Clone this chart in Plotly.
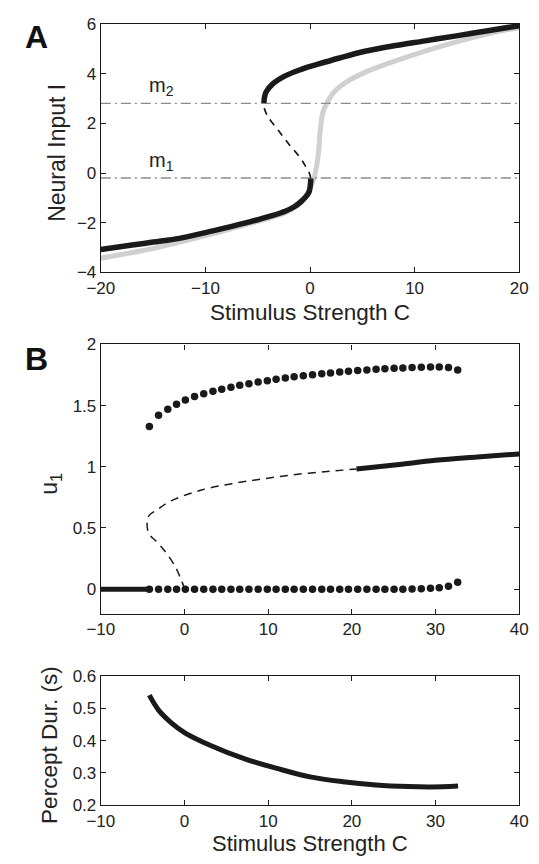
import plotly.graph_objects as go

W, H = 539, 864

# ---------------- Panel A: neural input I vs stimulus strength C ----------------
# stable lower branch (black, solid)
a_low_c = [-20, -17, -15, -12.5, -10, -8, -6.95, -5, -3.89, -2.37, -1.5, -0.84, -0.35, -0.08, 0.03, 0.06, 0.07]
a_low_i = [-3.08, -2.9, -2.78, -2.63, -2.4, -2.2, -2.09, -1.88, -1.75, -1.54, -1.36, -1.14, -0.93, -0.75, -0.5, -0.35, -0.22]
# unstable middle branch (black, dashed)
a_mid_c = [0.07, -0.05, -0.4, -1.0, -2.0, -3.0, -4.0, -4.36, -4.41]
a_mid_i = [-0.22, -0.02, 0.25, 0.65, 1.15, 1.7, 2.25, 2.6, 2.82]
# stable upper branch (black, solid)
a_up_c = [-4.41, -4.35, -4.20, -3.59, -2.37, -0.84, 0.69, 2.82, 5.26, 8.0, 11.0, 14.0, 17.0, 20.0]
a_up_i = [2.82, 3.05, 3.26, 3.58, 3.91, 4.17, 4.37, 4.63, 4.90, 5.12, 5.32, 5.52, 5.73, 5.93]
# monotonic reference curve (gray)
a_gray_c = [-20, -15, -10, -7, -5, -3, -2.37, -1.5, -0.84, -0.3, 0.1, 0.38, 0.69, 0.85, 0.93, 1.05, 1.14,
            1.35, 1.6, 2.21, 3.43, 5.26, 7.87, 11.0, 14.2, 17.3, 20.0]
a_gray_i = [-3.43, -3.04, -2.52, -2.18, -1.95, -1.7, -1.6, -1.38, -1.2, -0.85, -0.5, -0.22, 0.43, 1.0, 1.48,
            1.95, 2.27, 2.58, 2.80, 3.22, 3.65, 4.05, 4.47, 4.91, 5.3, 5.63, 5.86]
# threshold levels
m_levels = [-0.2, 2.8]
m_names = ["m<sub>1</sub>", "m<sub>2</sub>"]

# ---------------- Panel B: u1 vs stimulus strength C ----------------
b_dot_c = [-4.2, -3.1, -2.0, -0.95, 0.1, 1.2, 2.3, 3.4, 4.45, 5.55, 6.6, 7.7, 8.8, 9.9, 10.95, 12.05,
           13.1, 14.2, 15.3, 16.4, 17.45, 18.55, 19.6, 20.7, 21.8, 22.9, 23.95, 25.05, 26.1, 27.2,
           28.3, 29.4, 30.45, 31.55, 32.65]
b_dot_max = [1.329, 1.42, 1.47, 1.51, 1.545, 1.575, 1.596, 1.618, 1.634, 1.65, 1.666, 1.679, 1.693,
             1.703, 1.714, 1.725, 1.735, 1.743, 1.751, 1.759, 1.767, 1.775, 1.781, 1.786, 1.791,
             1.797, 1.8, 1.805, 1.807, 1.81, 1.813, 1.816, 1.816, 1.81, 1.791]
b_dot_min = [0, 0, 0, 0, 0, 0, 0, 0, 0, 0, 0, 0, 0, 0, 0, 0, 0, 0, 0, 0, 0, 0, 0, 0, 0, 0, 0,
             0, 0, 0.002, 0.004, 0.007, 0.012, 0.025, 0.057]
b_low_c = [-10, -4.2]
b_low_u = [0, 0]
b_mid_c = [0.05, -0.3, -1.12, -2.45, -3.5, -4.0, -4.35, -4.47, -4.42, -4.2, -3.21, -1.69, 2.13, 5.94,
           9.75, 13.57, 17.38, 20.55]
b_mid_u = [0.0, 0.06, 0.186, 0.32, 0.40, 0.43, 0.47, 0.52, 0.565, 0.605, 0.652, 0.719, 0.812, 0.865,
           0.905, 0.939, 0.963, 0.982]
b_up_c = [20.55, 25.39, 30, 35, 40]
b_up_u = [0.982, 1.017, 1.053, 1.08, 1.105]

# ---------------- Panel C: percept duration vs stimulus strength C ----------------
c_c = [-4.2, -3.1, -1.54, 0.04, 3.19, 7.13, 11.06, 15.0, 18.94, 22.87, 26.8, 29.57, 32.7]
c_dur = [0.54, 0.494, 0.454, 0.424, 0.384, 0.344, 0.314, 0.288, 0.273, 0.263, 0.258, 0.257, 0.26]

FONT = "Liberation Sans, Arial, Helvetica, sans-serif"
BLACK = "#1a1a1a"
GRAY = "#d0d0d0"
MGRAY = "#8c8c8c"


def px(x):
    return x / W


def py(y):
    return 1 - y / H


fig = go.Figure()

# Panel A traces
fig.add_trace(go.Scatter(x=a_gray_c, y=a_gray_i, mode="lines", line=dict(color=GRAY, width=5, shape="spline"),
                         xaxis="x", yaxis="y"))
for lvl in m_levels:
    fig.add_trace(go.Scatter(x=[-20, 20], y=[lvl, lvl], mode="lines",
                             line=dict(color=MGRAY, width=1.3, dash="10px,4px,2px,4px"),
                             xaxis="x", yaxis="y"))
fig.add_trace(go.Scatter(x=a_mid_c, y=a_mid_i, mode="lines", line=dict(color=BLACK, width=1.7, dash="7px,6px", shape="spline"),
                         xaxis="x", yaxis="y"))
fig.add_trace(go.Scatter(x=a_low_c, y=a_low_i, mode="lines", line=dict(color=BLACK, width=5.5, shape="spline"),
                         xaxis="x", yaxis="y"))
fig.add_trace(go.Scatter(x=a_up_c, y=a_up_i, mode="lines", line=dict(color=BLACK, width=5.5, shape="spline"),
                         xaxis="x", yaxis="y"))

# Panel B traces
fig.add_trace(go.Scatter(x=b_low_c, y=b_low_u, mode="lines", line=dict(color=BLACK, width=5),
                         xaxis="x2", yaxis="y2"))
fig.add_trace(go.Scatter(x=b_mid_c, y=b_mid_u, mode="lines", line=dict(color=BLACK, width=1.5, dash="8px,6px", shape="spline"),
                         xaxis="x2", yaxis="y2"))
fig.add_trace(go.Scatter(x=b_up_c, y=b_up_u, mode="lines", line=dict(color=BLACK, width=5, shape="spline"),
                         xaxis="x2", yaxis="y2"))
fig.add_trace(go.Scatter(x=b_dot_c, y=b_dot_max, mode="markers", marker=dict(color=BLACK, size=7.5),
                         xaxis="x2", yaxis="y2"))
fig.add_trace(go.Scatter(x=b_dot_c, y=b_dot_min, mode="markers", marker=dict(color=BLACK, size=7.5),
                         xaxis="x2", yaxis="y2"))

# Panel C trace
fig.add_trace(go.Scatter(x=c_c, y=c_dur, mode="lines", line=dict(color=BLACK, width=5, shape="spline"),
                         xaxis="x3", yaxis="y3"))

XDOM = [px(90.7), px(527.7)]
axis_common = dict(showline=True, linecolor=BLACK, linewidth=1.3, mirror="ticks", ticks="inside",
                   ticklen=5, tickwidth=1, tickcolor=BLACK, showgrid=False, zeroline=False,
                   tickfont=dict(family=FONT, size=17, color="#222"))

fig.update_layout(
    width=W, height=H,
    margin=dict(l=0, r=0, t=0, b=0),
    paper_bgcolor="white", plot_bgcolor="white",
    showlegend=False,
    font=dict(family=FONT, color="#222"),
    xaxis=dict(domain=XDOM, range=[-20, 20], tickvals=[-20, -10, 0, 10, 20], anchor="y", **axis_common),
    yaxis=dict(domain=[py(269.3), py(15.3)], range=[-4, 6], tickvals=[-4, -2, 0, 2, 4, 6], anchor="x", **axis_common),
    xaxis2=dict(domain=XDOM, range=[-10, 40], tickvals=[-10, 0, 10, 20, 30, 40], anchor="y2", **axis_common),
    yaxis2=dict(domain=[py(618.3), py(342.9)], range=[-0.2, 2], tickvals=[0, 0.5, 1, 1.5, 2], anchor="x2", **axis_common),
    xaxis3=dict(domain=XDOM, range=[-10, 40], tickvals=[-10, 0, 10, 20, 30, 40], anchor="y3", **axis_common),
    yaxis3=dict(domain=[py(814.3), py(681.7)], range=[0.2, 0.6], tickvals=[0.2, 0.3, 0.4, 0.5, 0.6], anchor="x3", **axis_common),
)

ann = []
# panel letters
ann.append(dict(text="<b>A</b>", x=px(23), y=py(29), font=dict(size=32, family=FONT, color="#111")))
ann.append(dict(text="<b>B</b>", x=px(23), y=py(358), font=dict(size=32, family=FONT, color="#111")))
# axis titles
ann.append(dict(text="Stimulus Strength C", x=px(309), y=py(310), font=dict(size=22.5, family=FONT)))
ann.append(dict(text="Stimulus Strength C", x=px(309), y=py(853), font=dict(size=22, family=FONT)))
ann.append(dict(text="Neural Input I", x=px(45), y=py(147), textangle=-90, font=dict(size=23, family=FONT)))
ann.append(dict(text="u<sub>1</sub>", x=px(38), y=py(485), textangle=-90, font=dict(size=23, family=FONT)))
ann.append(dict(text="Percept Dur. (s)", x=px(37), y=py(752), textangle=-90, font=dict(size=22.5, family=FONT)))
for a in ann:
    a.update(xref="paper", yref="paper", showarrow=False, xanchor="center", yanchor="middle")

# threshold labels placed above their lines
for lvl, name in zip(m_levels, m_names):
    ann.append(dict(text=name, x=-15.6, y=lvl, xref="x", yref="y", xanchor="left", yanchor="bottom",
                    yshift=2, showarrow=False, font=dict(size=20, family=FONT, color="#222")))

fig.update_layout(annotations=ann)
fig.write_html("out.html")
